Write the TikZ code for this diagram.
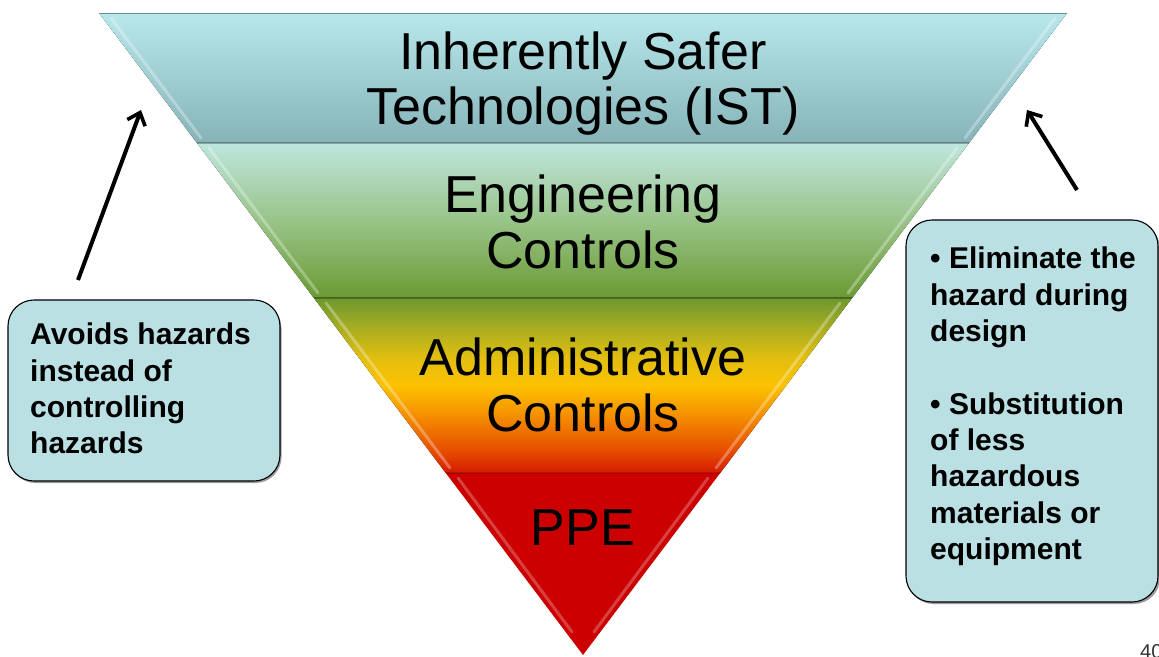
\documentclass[tikz,border=0pt]{standalone}
\usepackage{fontspec}
\setmainfont{Liberation Sans}
\usetikzlibrary{arrows.meta,calc}
\definecolor{istTop}{HTML}{B9E8EC}
\definecolor{istBot}{HTML}{85B3B8}
\definecolor{engTop}{HTML}{BFE6DE}
\definecolor{engMid}{HTML}{98C488}
\definecolor{engBot}{HTML}{6B9A34}
\definecolor{admA}{HTML}{D41A00}
\definecolor{admB}{HTML}{E64A00}
\definecolor{admC}{HTML}{F59200}
\definecolor{admD}{HTML}{FCC200}
\definecolor{admE}{HTML}{E2BE10}
\definecolor{admF}{HTML}{A4AC22}
\definecolor{admG}{HTML}{6C982E}
\definecolor{ppeRed}{HTML}{CC0000}
\definecolor{boxFill}{HTML}{BBE0E4}
\pgfdeclareverticalshading{admshade}{100bp}{color(0bp)=(admA); color(25bp)=(admA); color(31bp)=(admB); color(42bp)=(admC); color(50bp)=(admD); color(58bp)=(admE); color(67bp)=(admF); color(75bp)=(admG); color(100bp)=(admG)}
\begin{document}
\begin{tikzpicture}[x=1pt,y=-1pt,
  lbl/.style={inner sep=0pt, align=center, font=\fontsize{52}{55.7}\selectfont, text=black},
  boxtext/.style={inner sep=0pt, align=left, font=\fontsize{30}{36.3}\selectfont\bfseries, text=black, anchor=north west},
  infobox/.style={draw=black, line width=1.1pt, fill=boxFill, rounded corners=26pt, inner sep=0pt},
  boxshadow/.style={fill=black!55, rounded corners=26pt, opacity=0.7},
  bevel/.style={white, opacity=0.3, line width=3pt, line cap=round},
  sep/.style={black, opacity=0.28, line width=1.6pt},
  pointer/.style={line width=4pt, -{Straight Barb[length=11pt,width=19pt,line width=3.6pt]}}
]
\useasboundingbox (0,0) rectangle (1159,656);
\clip (0,0) rectangle (1159,656);
\fill[white] (0,0) rectangle (1159,656);

% triangle corners and band boundaries
\coordinate (TL) at (99,13);
\coordinate (TR) at (1067,13);
\coordinate (B) at (583,655);
\coordinate (L1) at ($(TL)!0.2025!(B)$);
\coordinate (R1) at ($(TR)!0.2025!(B)$);
\coordinate (L2) at ($(TL)!0.4439!(B)$);
\coordinate (R2) at ($(TR)!0.4439!(B)$);
\coordinate (L3) at ($(TL)!0.7165!(B)$);
\coordinate (R3) at ($(TR)!0.7165!(B)$);

% bands
\fill[top color=istTop, bottom color=istBot] (TL) -- (TR) -- (R1) -- (L1) -- cycle;
\fill[top color=engTop, bottom color=engBot, middle color=engMid] (L1) -- (R1) -- (R2) -- (L2) -- cycle;
\fill[shading=admshade] (L2) -- (R2) -- (R3) -- (L3) -- cycle;
\fill[ppeRed] (L3) -- (R3) -- (B) -- cycle;

% bevel highlights
\draw[bevel] (111,18) -- (201,138);
\draw[bevel] (1055,18) -- (965,138);
\draw[bevel] (209,148) -- (318,293);
\draw[bevel] (957,148) -- (848,293);
\draw[bevel] (326,303) -- (450,468);
\draw[bevel] (840,303) -- (716,468);
\draw[bevel, opacity=0.25] (458,478) -- (572,632);
\draw[bevel, opacity=0.25] (708,478) -- (594,632);

% separators and top edge
\draw[istBot!80!black, line width=1pt] (TL) -- (TR);
\draw[sep] (L1) -- (R1);
\draw[sep] (L2) -- (R2);
\draw[sep, black!70!red] (L3) -- (R3);

% labels
\node[lbl, anchor=north] (ist) at (583,31.3) {Inherently Safer\\Technologies (IST)};
\node[lbl, anchor=north] (eng) at (583,174.7) {Engineering\\Controls};
\node[lbl, anchor=north] (adm) at (583,338) {Administrative\\Controls};
\node[lbl, anchor=base] (ppe) at (583,545) {PPE};

% info boxes
\fill[boxshadow] (9.5,302.5) rectangle (281.5,483);
\node[infobox, minimum width=272pt, minimum height=181pt] (lbox) at (144,390.5) {};
\node[boxtext] (ltext) at (30,323) {Avoids hazards\\instead of\\controlling\\hazards};

\fill[boxshadow] (907.5,222.5) rectangle (1160,604);
\node[infobox, minimum width=252pt, minimum height=382pt] (rbox) at (1032,411) {};
\node[boxtext] (rtext) at (930,247) {• Eliminate the\\hazard during\\design\\[36.3pt]• Substitution\\of less\\hazardous\\materials or\\equipment};

% arrows
\coordinate (la0) at (78,280);
\coordinate (la1) at (141,110);
\coordinate (ra0) at (1077,190);
\coordinate (ra1) at (1027,110);
\draw[pointer] (la0) -- (la1);
\draw[pointer] (ra0) -- (ra1);

% page number (cut off at the bottom edge, as in the reference)
\node[inner sep=0pt, anchor=north west, font=\fontsize{20}{24}\selectfont, text=black!80] (pnum) at (1140,644) {40};
\end{tikzpicture}
\end{document}
